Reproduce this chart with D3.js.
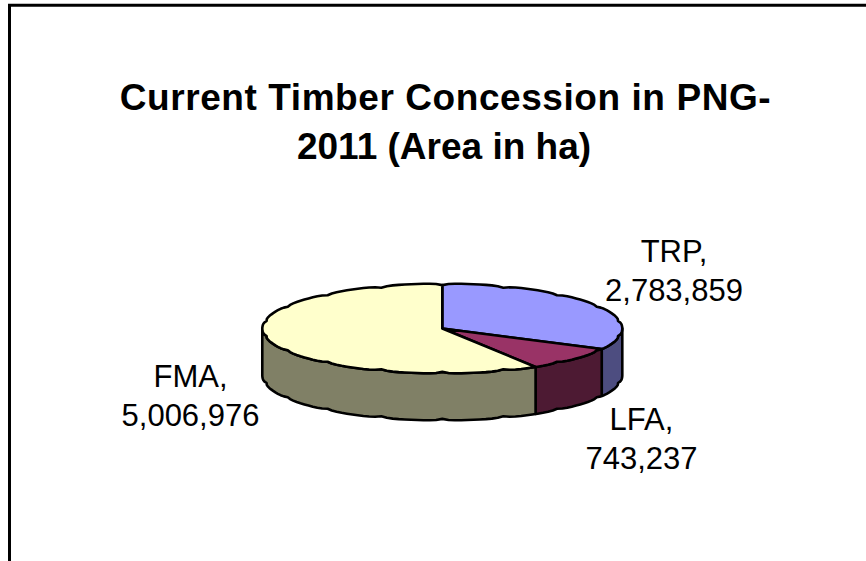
<!DOCTYPE html>
<html>
<head>
<meta charset="utf-8">
<script src="https://d3js.org/d3.v7.min.js"></script>
<style>
html, body { margin: 0; padding: 0; background: #fff; }
svg { display: block; }
text { font-family: "Liberation Sans", Arial, sans-serif; fill: #000; }
</style>
</head>
<body>
<div id="chart"></div>
<script>
var WD = 866, HT = 561

var categories = ["TRP", "LFA", "FMA"]
var values = [2783859, 743237, 5006976]
var valueLabels = ["2,783,859", "743,237", "5,006,976"]
var topColors = ["#9999ff", "#993366", "#ffffcc"]
var sideColors = ["#4d4d80", "#4d1a33", "#808066"]
var titleLines = ["Current Timber Concession in PNG-", "2011 (Area in ha)"]

var cx = 442.3, cy = 328.5, rx = 180, ry = 45, depth = 47
var fine = Math.PI / 90     // rim sampling
var bump = Math.PI / 9      // the rim has a small notch every 20 degrees
var notch = 1.6

var svg = d3.select("#chart").append("svg")
  .attr("width", WD)
  .attr("height", HT)

// chart area border, runs off the right and bottom of the picture
svg.append("path")
  .attr("d", d3.line()([[9.5, HT + 2], [9.5, 5.3], [WD + 2, 5.3]]))
  .attr("fill", "none")
  .attr("stroke", "#000")
  .attr("stroke-width", 3)

var titleX = [445.5, 444]
var titleSpacing = [0.57, 0]
var title = svg.append("text")
  .attr("text-anchor", "middle")
  .attr("font-weight", "bold")
  .attr("font-size", 37)
title.selectAll("tspan")
  .data(titleLines)
  .enter().append("tspan")
    .attr("x", function(d, i) { return titleX[i] })
    .attr("y", function(d, i) { return 110 + i * 49 })
    .attr("letter-spacing", function(d, i) { return titleSpacing[i] })
    .text(function(d) { return d })

var pie = d3.pie().sort(null).value(function(d) { return d })
var arcs = pie(values)

var sx = d3.scaleLinear().domain([-1, 1]).range([cx - rx, cx + rx])
var sy = d3.scaleLinear().domain([-1, 1]).range([cy - ry, cy + ry])

function rimPoint(a, dy) {
  var s = Math.abs(Math.sin(a * Math.PI / bump))
  var pull = notch * Math.pow(1 - s, 3)
  return [sx(Math.sin(a)) - pull * Math.sin(a), sy(-Math.cos(a)) + pull * Math.cos(a) + dy]
}

function rimAngles(a0, a1) {
  var out = [a0]
  var k = Math.ceil(a0 / fine + 1e-6)
  while (k * fine < a1 - 1e-6) {
    out.push(k * fine)
    k++
  }
  out.push(a1)
  return out
}

var line = d3.line()

function sidePath(d) {
  // only the front half of the rim shows
  var a0 = Math.max(d.startAngle, Math.PI / 2)
  var a1 = Math.min(d.endAngle, Math.PI * 1.5)
  if (a1 <= a0) return null
  var angles = rimAngles(a0, a1)
  var pts = angles.map(function(a) { return rimPoint(a, 0) })
  var low = angles.slice().reverse().map(function(a) { return rimPoint(a, depth) })
  return line(pts.concat(low)) + "Z"
}

function topPath(d) {
  var pts = rimAngles(d.startAngle, d.endAngle).map(function(a) { return rimPoint(a, 0) })
  return line([[cx, cy]].concat(pts)) + "Z"
}

svg.selectAll("path.side")
  .data(arcs)
  .enter().append("path")
    .attr("class", "side")
    .attr("d", sidePath)
    .attr("fill", function(d, i) { return sideColors[i] })
    .attr("stroke", "#000")
    .attr("stroke-width", 2.6)
    .attr("stroke-linejoin", "round")

svg.selectAll("path.top")
  .data(arcs)
  .enter().append("path")
    .attr("class", "top")
    .attr("d", topPath)
    .attr("fill", function(d, i) { return topColors[i] })
    .attr("stroke", "#000")
    .attr("stroke-width", 2.6)
    .attr("stroke-linejoin", "round")

// data labels, two lines each
var labelX = [674, 641.5, 190.5]
var labelY = [262, 430, 387]
var labels = svg.selectAll("text.label")
  .data(categories)
  .enter().append("text")
    .attr("class", "label")
    .attr("text-anchor", "middle")
    .attr("font-size", 31)

labels.append("tspan")
  .attr("x", function(d, i) { return labelX[i] })
  .attr("y", function(d, i) { return labelY[i] })
  .text(function(d) { return d + "," })
labels.append("tspan")
  .attr("x", function(d, i) { return labelX[i] })
  .attr("y", function(d, i) { return labelY[i] + 39 })
  .text(function(d, i) { return valueLabels[i] })
</script>
</body>
</html>
